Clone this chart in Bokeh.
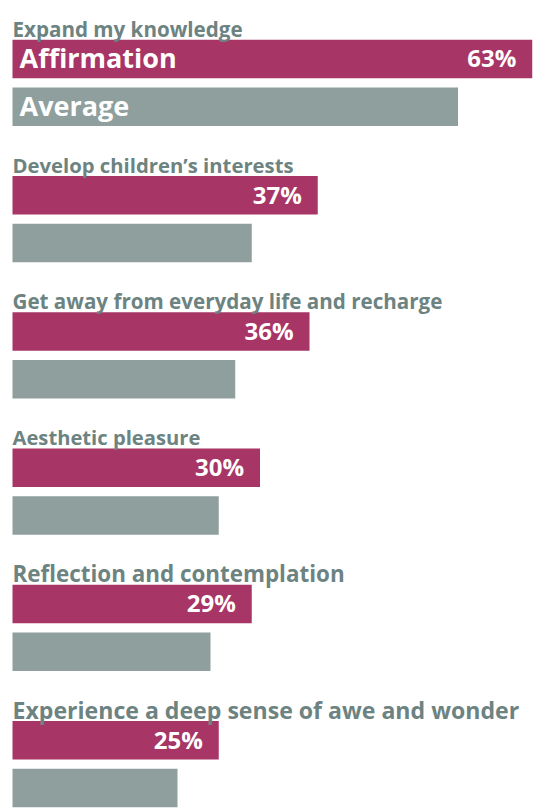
from bokeh.plotting import figure
from bokeh.models import Range1d, ColumnDataSource
from bokeh.core.properties import value
from bokeh.embed import file_html
from bokeh.resources import INLINE

# ---- data ----
categories = [
    "Expand my knowledge",
    "Develop children\u2019s interests",
    "Get away from everyday life and recharge",
    "Aesthetic pleasure",
    "Reflection and contemplation",
    "Experience a deep sense of awe and wonder",
]
affirmation = [63, 37, 36, 30, 29, 25]
average = [54, 29, 27, 25, 24, 20]
series_names = ["Affirmation", "Average"]

# ---- layout / style ----
MAGENTA = "#A73565"
GRAY = "#8E9F9E"
TITLE_COLOR = "#6C8381"
FONT = "Open Sans"
title_sizes = ["20.6px", "20.3px", "20.6px", "20.2px", "22.4px", "23.1px"]

W, H = 533, 808
left_px = 12
px_per_unit = 8.25
first_center = 58.4
step = 136.26
bar_h = 38.5
gray_off = 47.8

idx = list(range(len(categories)))
mag_y = [first_center + step * i for i in idx]
gray_y = [y + gray_off for y in mag_y]
title_y = [y - bar_h / 2 - 11 for y in mag_y]

p = figure(width=W, height=H, output_backend="svg", toolbar_location=None,
           x_range=Range1d(-left_px / px_per_unit, (W - left_px) / px_per_unit),
           y_range=Range1d(H, 0),
           min_border=0, min_border_left=0, min_border_right=0,
           min_border_top=0, min_border_bottom=0)
p.axis.visible = False
p.grid.visible = False
p.outline_line_color = None
p.background_fill_color = "white"
p.border_fill_color = "white"

src_m = ColumnDataSource(dict(y=mag_y, v=affirmation, lab=[f"{v}%" for v in affirmation]))
src_g = ColumnDataSource(dict(y=gray_y, v=average))
src_t = ColumnDataSource(dict(y=title_y, t=categories, fs=title_sizes))

p.hbar(y="y", left=0, right="v", height=bar_h, source=src_m, fill_color=MAGENTA, line_color=None)
p.hbar(y="y", left=0, right="v", height=bar_h, source=src_g, fill_color=GRAY, line_color=None)

p.text(x=0, y="y", text="t", source=src_t, text_font=value(FONT), text_font_size="fs",
       text_font_style="bold", text_color=TITLE_COLOR, text_baseline="alphabetic",
       text_align="left")

p.text(x="v", y="y", text="lab", source=src_m, text_font=value(FONT), text_font_size="24px",
       text_font_style="bold", text_color="white", text_baseline="middle", text_align="right",
       x_offset=-16, y_offset=-1)

# series names inside the first pair of bars
p.text(x=[0, 0], y=[mag_y[0], gray_y[0]], text=series_names, text_font=value(FONT),
       text_font_size="27px", text_font_style="bold", text_color="white",
       text_baseline="middle", text_align="left", x_offset=7, y_offset=-1)

open("out.html", "w").write(file_html(p, INLINE))
